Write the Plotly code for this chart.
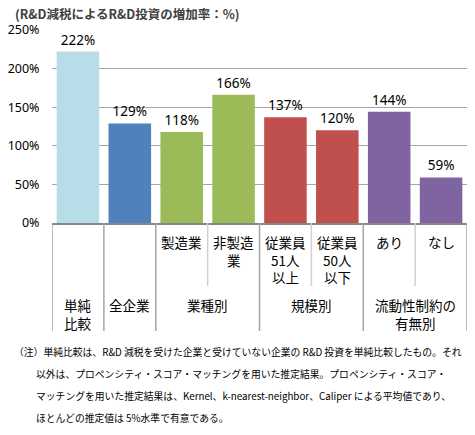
import plotly.graph_objects as go

# R&D減税によるR&D投資の増加率（%）
categories = ["単純比較", "全企業", "製造業", "非製造業",
              "従業員51人以上", "従業員50人以下", "あり", "なし"]
values = [222, 129, 118, 166, 137, 120, 144, 59]
sub_labels = ["", "", "製造業", "非製造<br>業", "従業員<br>51人<br>以上",
              "従業員<br>50人<br>以下", "あり", "なし"]
# (label, first index, last index)
groups = [("単純<br>比較", 0, 0), ("全企業", 1, 1), ("業種別", 2, 3),
          ("規模別", 4, 5), ("流動性制約の<br>有無別", 6, 7)]
y_ticks = [0, 50, 100, 150, 200, 250]

colors = ["#B7DEE8", "#4F81BD", "#9BBB59", "#9BBB59",
          "#C0504D", "#C0504D", "#8064A2", "#8064A2"]

title_text = "(R&D減税によるR&D投資の増加率：%)"
notes = [
    "（注）単純比較は、R&D 減税を受けた企業と受けていない企業の R&D 投資を単純比較したもの。それ",
    "以外は、プロペンシティ・スコア・マッチングを用いた推定結果。プロペンシティ・スコア・",
    "マッチングを用いた推定結果は、Kernel、k-nearest-neighbor、Caliper による平均値であり、",
    "ほとんどの推定値は 5%水準で有意である。",
]

W, H = 475, 435
L, R, T, B = 48, 8, 30, 212
plot_w = W - L - R
plot_h = H - T - B
LINE = 17.5  # label line spacing in px


def px(x):
    return (x - L) / plot_w


def py(y):
    return (H - B - y) / plot_h


jp = "Noto Sans CJK JP"
label_font = dict(family=jp, size=13.5, color="#000000")


def add_label(anns, text, xc, y_first):
    # one annotation per line so the spacing matches the original
    for k, part in enumerate(text.split("<br>")):
        anns.append(dict(text=part, x=xc, y=py(y_first + k * LINE), xref="x", yref="paper",
                         xanchor="center", yanchor="middle", showarrow=False,
                         font=label_font))


fig = go.Figure(go.Bar(
    x=list(range(len(categories))),
    y=values,
    marker=dict(color=colors, line=dict(width=0)),
    text=[f"{v}%" for v in values],
    textposition="outside",
    textfont=dict(family="Noto Sans, " + jp, size=13.5, color="#000000"),
    cliponaxis=False,
    hovertext=categories,
    width=0.82,
))

fig.update_layout(
    width=W, height=H,
    margin=dict(l=L, r=R, t=T, b=B, pad=0),
    paper_bgcolor="white", plot_bgcolor="white",
    showlegend=False,
    xaxis=dict(range=[-0.5, len(categories) - 0.5], showticklabels=False,
               showgrid=False, zeroline=False, showline=True,
               linecolor="#868686", linewidth=1.5, ticks=""),
    yaxis=dict(range=[0, 250], tickvals=y_ticks,
               ticktext=[f"{t}%" for t in y_ticks],
               showgrid=True, gridcolor="#A6A6A6", gridwidth=1,
               zeroline=False, showline=False,
               ticks="outside", ticklen=9, tickcolor="rgba(0,0,0,0)",
               tickfont=dict(family="Noto Sans, " + jp, size=12.5, color="#000000")),
)

annotations = [dict(text=title_text, x=px(9), y=py(14), xref="paper", yref="paper",
                    xanchor="left", yanchor="middle", showarrow=False,
                    font=dict(family=jp, size=12.5, color="#404040", weight="bold"))]

for i, lab in enumerate(sub_labels):
    if lab:
        add_label(annotations, lab, i, 242)

shapes = []
bounds = []
for lab, a, b in groups:
    add_label(annotations, lab, (a + b) / 2, 305)
    bounds.append(a - 0.5)
    for k in range(a, b):
        shapes.append(dict(type="line", xref="x", yref="paper", x0=k + 0.5, x1=k + 0.5,
                           y0=0, y1=py(286), line=dict(color="#D0D0D0", width=1.5)))
bounds.append(groups[-1][2] + 0.5)
for xb in bounds:
    shapes.append(dict(type="line", xref="x", yref="paper", x0=xb, x1=xb,
                       y0=0, y1=py(331), line=dict(color="#A6A6A6", width=1.5)))

note_y = [352, 374, 396, 418]
for j, line in enumerate(notes):
    annotations.append(dict(text=line, x=px(8 if j == 0 else 30), y=py(note_y[j]),
                            xref="paper", yref="paper", xanchor="left", yanchor="middle",
                            showarrow=False,
                            font=dict(family=jp, size=9.8, color="#000000")))

fig.update_layout(annotations=annotations, shapes=shapes)

# page has a default 8px body margin; drop it so the figure sits at the corner
fig.write_html("out.html", config={"displayModeBar": False},
               post_script="document.body.style.margin='0px';")
